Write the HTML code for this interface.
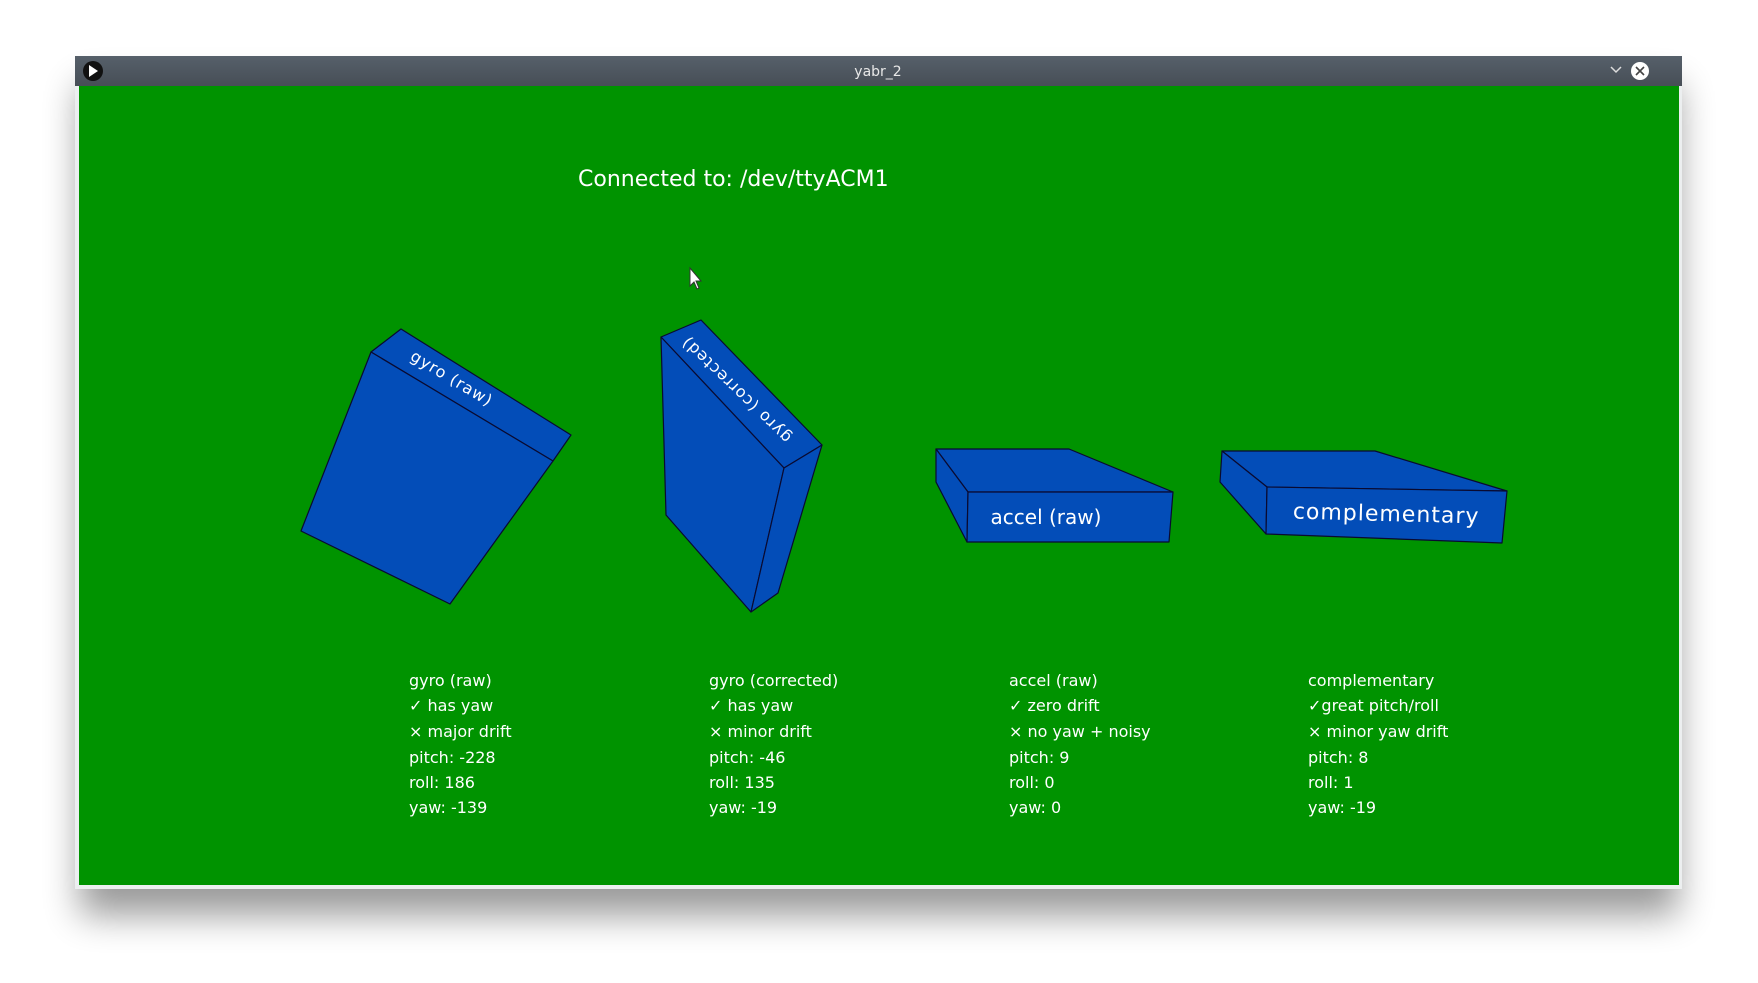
<!DOCTYPE html>
<html><head><meta charset="utf-8"><style>
html,body{margin:0;padding:0;background:#fff;width:1758px;height:983px;overflow:hidden}
svg{display:block}
text{font-family:"DejaVu Sans","Liberation Sans",sans-serif;fill:#fff}
</style></head><body>
<svg width="1758" height="983" viewBox="0 0 1758 983" xmlns="http://www.w3.org/2000/svg">
<defs>
<filter id="sh" x="-10%" y="-10%" width="120%" height="130%"><feGaussianBlur stdDeviation="18"/></filter>
<linearGradient id="tb" x1="0" y1="0" x2="0" y2="1"><stop offset="0" stop-color="#56606a"/><stop offset="1" stop-color="#474e56"/></linearGradient>
</defs>
<rect x="80" y="85" width="1598" height="830" fill="#000" opacity="0.4" filter="url(#sh)"/>
<rect x="75" y="56" width="1607" height="833" fill="#eceff0"/>
<rect x="75" y="56" width="1607" height="30" fill="url(#tb)"/>
<rect x="79" y="86" width="1600" height="799" fill="#009300"/>
<circle cx="93" cy="71" r="10" fill="#111"/>
<polygon points="89,65 89,77 98,71" fill="#fff"/>
<text x="878" y="76" font-size="14" text-anchor="middle" style="fill:#e8e8e8">yabr_2</text>
<polyline points="1611,67 1616,72 1621,67" fill="none" stroke="#ddd" stroke-width="1.5"/>
<circle cx="1640" cy="71" r="9" fill="#fff"/>
<path d="M1636,67 L1644,75 M1644,67 L1636,75" stroke="#444" stroke-width="1.6"/>
<text x="578" y="186" font-size="22">Connected to: /dev/ttyACM1</text>
<polygon points="690,268 690,286 694,282 697,289 699,288 696,281 701,281" fill="#fff" stroke="#333" stroke-width="1"/>
<g stroke="#0a0a30" stroke-width="1.2" fill="#034db8" stroke-linejoin="round">
<polygon points="371,352 401,329 571,435 553,461"/>
<polygon points="371,352 553,461 450,604 301,531"/>
<polygon points="661,337 701,320 822,445 784,468"/>
<polygon points="661,337 784,468 751,612 666,515"/>
<polygon points="784,468 822,445 778,593 751,612"/>
<polygon points="936,449 1069,449 1173,492 968,492"/>
<polygon points="936,449 968,492 967,542 936,482"/>
<polygon points="968,492 1173,492 1169,542 967,542"/>
<polygon points="1222,451 1375,451 1507,491 1267,487"/>
<polygon points="1222,451 1267,487 1266,534 1220,482"/>
<polygon points="1267,487 1507,491 1502,543 1266,534"/>
</g>
<text font-size="16" text-anchor="middle" letter-spacing="1" transform="translate(449,383) rotate(31)">gyro (raw)</text>
<text font-size="16" text-anchor="middle" letter-spacing="1" transform="translate(740,386) rotate(224)">gyro (corrected)</text>
<text x="1046" y="524" font-size="20" text-anchor="middle">accel (raw)</text>
<text font-size="22" text-anchor="middle" letter-spacing="1" transform="translate(1386,521) rotate(1.5)">complementary</text>
<g font-size="16">
<text x="409" y="686">gyro (raw)</text>
<text x="409" y="711">✓ has yaw</text>
<text x="409" y="737">× major drift</text>
<text x="409" y="763">pitch: -228</text>
<text x="409" y="788">roll: 186</text>
<text x="409" y="813">yaw: -139</text>
<text x="709" y="686">gyro (corrected)</text>
<text x="709" y="711">✓ has yaw</text>
<text x="709" y="737">× minor drift</text>
<text x="709" y="763">pitch: -46</text>
<text x="709" y="788">roll: 135</text>
<text x="709" y="813">yaw: -19</text>
<text x="1009" y="686">accel (raw)</text>
<text x="1009" y="711">✓ zero drift</text>
<text x="1009" y="737">× no yaw + noisy</text>
<text x="1009" y="763">pitch: 9</text>
<text x="1009" y="788">roll: 0</text>
<text x="1009" y="813">yaw: 0</text>
<text x="1308" y="686">complementary</text>
<text x="1308" y="711">✓great pitch/roll</text>
<text x="1308" y="737">× minor yaw drift</text>
<text x="1308" y="763">pitch: 8</text>
<text x="1308" y="788">roll: 1</text>
<text x="1308" y="813">yaw: -19</text>
</g>
</svg>
</body></html>
